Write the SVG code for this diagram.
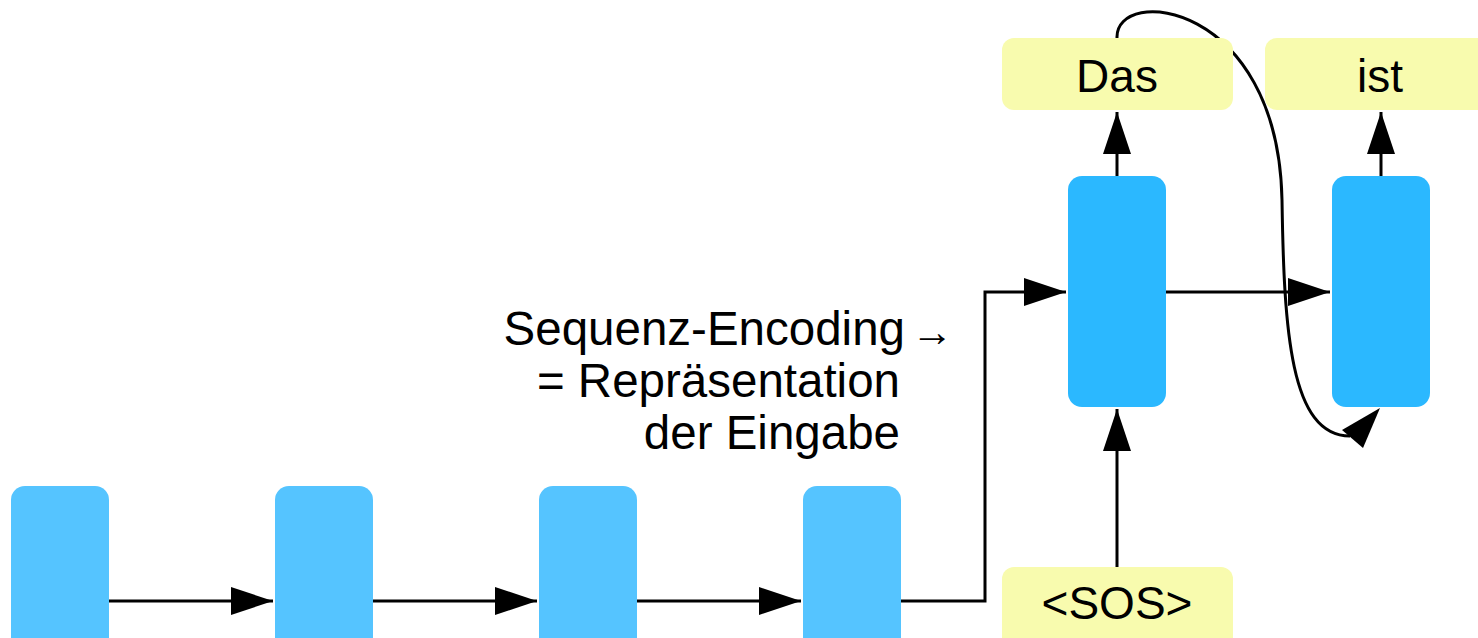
<svg xmlns="http://www.w3.org/2000/svg" width="1478" height="638" viewBox="0 0 1478 638">
  <style>
    .enc { fill: #55c4ff; }
    .dec { fill: #2bb8ff; }
    .tok { fill: #f8fbae; }
    .lbl { font-family: "Liberation Sans", Arial, sans-serif; font-size: 46px; fill: #000; }
    .note { font-size: 47.5px; }
    .edge { fill: none; stroke: #000; stroke-width: 3; }
    .head { fill: #000; stroke: none; }
  </style>
  <defs>
    <marker id="arrow" markerUnits="userSpaceOnUse" markerWidth="44" markerHeight="30" refX="42" refY="14" orient="auto">
      <path d="M0,0 L42,14 L0,28 Z" fill="#000"/>
    </marker>
  </defs>

  <rect width="1478" height="638" fill="#ffffff"/>

  <!-- connectors -->
  <g id="connectors">
    <path class="edge" d="M109,601 H273" marker-end="url(#arrow)"/>
    <path class="edge" d="M373,601 H537" marker-end="url(#arrow)"/>
    <path class="edge" d="M637,601 H801" marker-end="url(#arrow)"/>
    <path class="edge" d="M901,601 H985 V292 H1066" marker-end="url(#arrow)"/>
    <path class="edge" d="M1166,292 H1330" marker-end="url(#arrow)"/>
    <path class="edge" d="M1117,567 V409" marker-end="url(#arrow)"/>
    <path class="edge" d="M1117,176 V112" marker-end="url(#arrow)"/>
    <path class="edge" d="M1381,176 V112" marker-end="url(#arrow)"/>
    <!-- feedback of the emitted token into the next decoder step -->
    <path class="edge" d="M1117,38 C1115,-15 1278,0 1282,200 C1284,330 1290,436 1350,436"/>
    <polygon class="head" points="1380,408 1342,430 1363,448"/>
  </g>

  <!-- encoder cells -->
  <g id="enc1"><rect class="enc" x="11" y="486" width="98" height="180" rx="14"/></g>
  <g id="enc2"><rect class="enc" x="275" y="486" width="98" height="180" rx="14"/></g>
  <g id="enc3"><rect class="enc" x="539" y="486" width="98" height="180" rx="14"/></g>
  <g id="enc4"><rect class="enc" x="803" y="486" width="98" height="180" rx="14"/></g>

  <!-- decoder cells -->
  <g id="dec1"><rect class="dec" x="1068" y="176" width="98" height="231" rx="14"/></g>
  <g id="dec2"><rect class="dec" x="1332" y="176" width="98" height="231" rx="14"/></g>

  <!-- tokens -->
  <g id="tok-das">
    <rect class="tok" x="1002" y="38" width="231" height="72" rx="12"/>
    <text class="lbl" x="1117" y="92" text-anchor="middle">Das</text>
  </g>
  <g id="tok-ist">
    <rect class="tok" x="1265" y="38" width="240" height="72" rx="12"/>
    <text class="lbl" x="1380" y="92" text-anchor="middle">ist</text>
  </g>
  <g id="tok-sos">
    <rect class="tok" x="1002" y="567" width="231" height="90" rx="12"/>
    <text class="lbl" x="1117" y="619" text-anchor="middle">&lt;SOS&gt;</text>
  </g>

  <!-- encoding annotation -->
  <g id="encoding-label">
    <text class="lbl note" x="905" y="345" text-anchor="end">Sequenz-Encoding</text>
    <text class="lbl" x="911" y="346" style="font-size:42px">→</text>
    <text class="lbl note" x="900" y="397" text-anchor="end">= Repräsentation</text>
    <text class="lbl note" x="900" y="449" text-anchor="end">der Eingabe</text>
  </g>
</svg>
